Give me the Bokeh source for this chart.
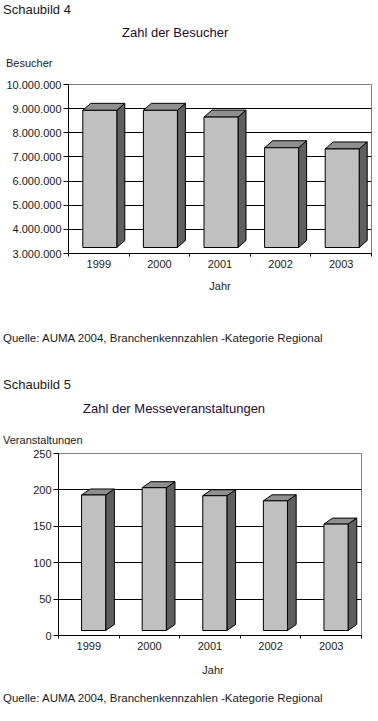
from bokeh.plotting import figure
from bokeh.layouts import column
from bokeh.models import Range1d, FixedTicker, Div
from bokeh.embed import file_html
from bokeh.resources import INLINE

# ---- data ----
years = ["1999", "2000", "2001", "2002", "2003"]
besucher = [8930000, 8930000, 8650000, 7380000, 7330000]
besucher_ticks = [3000000, 4000000, 5000000, 6000000, 7000000, 8000000, 9000000, 10000000]
besucher_tick_labels = ["3.000.000", "4.000.000", "5.000.000", "6.000.000",
                        "7.000.000", "8.000.000", "9.000.000", "10.000.000"]
veranstaltungen = [193, 203, 192, 185, 153]
veranst_ticks = [0, 50, 100, 150, 200, 250]
veranst_tick_labels = ["0", "50", "100", "150", "200", "250"]

FONT = "Liberation Sans"
TXT = "#1a1a1a"
TITLE_C = "#1f0a33"
W = 378


def make_chart(values, ticks, tick_labels, y0, y1, fig_w, fig_h, left, right, top, bottom,
               bar_w, shift, depth_x, depth_y, floor_px, margin=0):
    p = figure(width=fig_w, height=fig_h, output_backend="svg", toolbar_location=None,
               x_range=Range1d(0, len(values)), y_range=Range1d(y0, y1),
               min_border_left=left, min_border_right=right,
               min_border_top=top, min_border_bottom=bottom, margin=margin)
    fw = fig_w - left - right
    fh = fig_h - top - bottom
    ppx = fw / len(values)
    ppy = fh / (y1 - y0)
    dx = depth_x / ppx
    dy = depth_y / ppy
    floor = y0 + floor_px / ppy
    hw = bar_w / ppx / 2
    sh = shift / ppx

    xs_front, ys_front, xs_top, ys_top, xs_side, ys_side = [], [], [], [], [], []
    for i, v in enumerate(values):
        c = i + 0.5 + sh
        l, r = c - hw, c + hw
        xs_front.append([l, r, r, l]); ys_front.append([floor, floor, v, v])
        xs_top.append([l, l + dx, r + dx, r]); ys_top.append([v, v + dy, v + dy, v])
        xs_side.append([r, r + dx, r + dx, r]); ys_side.append([floor, floor + dy, v + dy, v])

    p.patches(xs_side, ys_side, fill_color="#5f5f5f", line_color="black", line_width=1)
    p.patches(xs_top, ys_top, fill_color="#8f8f8f", line_color="black", line_width=1)
    p.patches(xs_front, ys_front, fill_color="#c0c0c0", line_color="black", line_width=1)

    # axes
    p.xaxis.ticker = FixedTicker(ticks=[i + 0.5 for i in range(len(values))],
                                 minor_ticks=list(range(len(values) + 1)))
    p.xaxis.major_label_overrides = {i + 0.5: y for i, y in enumerate(years)}
    p.xaxis.major_tick_line_color = None
    p.xaxis.major_tick_out = 3
    p.xaxis.major_tick_in = 0
    p.xaxis.minor_tick_out = 3
    p.xaxis.minor_tick_in = 0
    p.xaxis.minor_tick_line_color = "black"
    p.xaxis.major_label_standoff = 3
    p.yaxis.ticker = FixedTicker(ticks=ticks)
    p.yaxis.major_label_overrides = {t: s for t, s in zip(ticks, tick_labels)}
    p.yaxis.minor_tick_line_color = None
    p.yaxis.major_tick_out = 5
    p.yaxis.major_tick_in = 0
    p.yaxis.major_tick_line_color = "black"
    p.yaxis.major_label_standoff = 2
    for ax in (p.xaxis, p.yaxis):
        ax.axis_line_color = "black"
        ax.major_label_text_font = FONT
        ax.major_label_text_font_size = "11px"
        ax.major_label_text_color = TXT
    p.xgrid.grid_line_color = None
    p.ygrid.ticker = FixedTicker(ticks=ticks)
    p.ygrid.grid_line_color = "black"
    p.ygrid.grid_line_width = 1
    p.outline_line_color = "#808080"
    p.outline_line_width = 1
    p.background_fill_color = "white"
    p.border_fill_color = "white"
    return p


def text_zone(height, items):
    """items: (x, center_y, text, size_px, color, align)"""
    parts = []
    for x, cy, t, size, color, align in items:
        lh = round(size * 1.2)
        top = cy - lh / 2
        if align == "center":
            pos = f"left:{x - 150}px; width:300px; text-align:center;"
        else:
            pos = f"left:{x}px;"
        parts.append(
            f'<div style="position:absolute; {pos} top:{top}px; font-family:\'{FONT}\'; '
            f'font-size:{size}px; line-height:{lh}px; color:{color}; white-space:nowrap;">{t}</div>')
    html = f'<div style="position:relative; width:{W}px; height:{height}px;">' + "".join(parts) + "</div>"
    return Div(text=html, width=W, height=height, margin=0)


SRC = "Quelle: AUMA 2004, Branchenkennzahlen -Kategorie Regional"

# zone 1: y 0-72
z1 = text_zone(72, [
    (3, 10, "Schaubild 4", 13, TXT, "left"),
    (122, 33, "Zahl der Besucher", 13, TITLE_C, "left"),
    (6, 63, "Besucher", 11, TXT, "left"),
])
# chart 1: y 72-275, frame 84..253, x 68..371
p1 = make_chart(besucher, besucher_ticks, besucher_tick_labels, 3000000, 10000000,
                W, 203, 68, 7, 12, 22, 34, 1, 8, 7, 6)
# zone 2: y 275-444
o2 = 275
z2 = text_zone(169, [
    (220, 286 - o2, "Jahr", 11, TXT, "center"),
    (3, 338 - o2, SRC, 11.5, TXT, "left"),
    (3, 385 - o2, "Schaubild 5", 13, TXT, "left"),
    (83, 409 - o2, "Zahl der Messeveranstaltungen", 13, TITLE_C, "left"),
    (3, 440 - o2, "Veranstaltungen", 11, TXT, "left"),
])
# chart 2: y 444-657, frame 453..635, x 58..372 (same left border as chart 1, pulled left by 10px)
p2 = make_chart(veranstaltungen, veranst_ticks, veranst_tick_labels, 0, 250,
                W + 10, 213, 68, 6, 9, 22, 25, 5, 9, 6, 5, margin=(0, 0, 0, -10))
# zone 3: y 657-713
o3 = 657
z3 = text_zone(56, [
    (213, 670 - o3, "Jahr", 11, TXT, "center"),
    (3, 698 - o3, SRC, 11.5, TXT, "left"),
])

root = column(z1, p1, z2, p2, z3, spacing=0)
open("out.html", "w").write(file_html(root, INLINE))
